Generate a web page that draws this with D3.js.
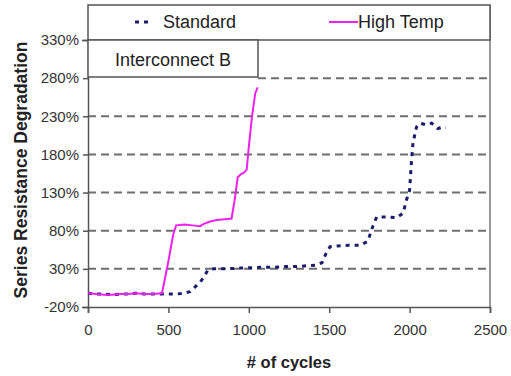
<!DOCTYPE html>
<html>
<head>
<meta charset="utf-8">
<script src="https://cdn.jsdelivr.net/npm/d3@7"></script>
<style>
  body { margin: 0; background: #fff; }
  text { font-family: "Liberation Sans", Arial, sans-serif; }
</style>
</head>
<body>
<div id="main"></div>
<script>
// data
const standardCycles = [0, 50, 100, 150, 200, 250, 300, 350, 400, 450, 500, 550, 590, 635, 700, 745, 780, 850, 950, 1070, 1150, 1215, 1300, 1420, 1455, 1480, 1505, 1550, 1620, 1690, 1740, 1770, 1795, 1850, 1920, 1960, 1980, 2000, 2012, 2021, 2043, 2065, 2100, 2137, 2175, 2210, 2225];
const standardValues = [-2, -3, -3, -4, -3, -3, -2, -3, -3, -3, -3, -3, -2, 0, 13, 28, 30, 30, 31, 32, 32, 33, 33, 35, 38, 50, 59, 60, 61, 61, 66, 85, 98, 98, 97, 103, 120, 133, 172, 195, 216, 221, 219, 221, 214, 216, 215];

const highCycles = [0, 50, 100, 150, 200, 250, 300, 350, 400, 460, 500, 530, 548, 600, 650, 697, 720, 760, 800, 850, 893, 912, 931, 950, 970, 987, 1000, 1020, 1040, 1055];
const highValues = [-2, -3, -4, -4, -3, -3, -2, -3, -3, -2, 40, 75, 87, 88, 87, 86, 89, 92, 94, 95, 96, 120, 150, 154, 156, 160, 190, 230, 260, 268];

const xTicks = [0, 500, 1000, 1500, 2000, 2500];
const yTicks = [-20, 30, 80, 130, 180, 230, 280, 330];
const gridTicks = [30, 80, 130, 180, 230, 280];

const width = 511, height = 376;
const margin = {top: 40, right: 21, bottom: 69, left: 88};

const svg = d3.select('#main').append('svg')
    .attr('width', width).attr('height', height);

const xScale = d3.scaleLinear().domain([0, 2500]).range([margin.left, width - margin.right]);
const yScale = d3.scaleLinear().domain([-20, 330]).range([height - margin.bottom, margin.top]);

// grid
svg.append('g').selectAll('line').data(gridTicks).enter().append('line')
    .attr('x1', function (d) { return d === 280 ? 258 : xScale(0); })
    .attr('x2', xScale(2500))
    .attr('y1', function (d) { return yScale(d); })
    .attr('y2', function (d) { return yScale(d); })
    .attr('stroke', '#6f6f6f')
    .attr('stroke-width', 2)
    .attr('stroke-dasharray', '8,5');

// right border
svg.append('line')
    .attr('x1', xScale(2500)).attr('x2', xScale(2500))
    .attr('y1', 5).attr('y2', yScale(-20))
    .attr('stroke', '#777').attr('stroke-width', 1.5);

// axes
const xAxis = d3.axisBottom(xScale).tickValues(xTicks).tickSize(6).tickPadding(11).tickFormat(d3.format('d'));
const yAxis = d3.axisLeft(yScale).tickValues(yTicks).tickSize(6).tickPadding(3).tickFormat(function (d) { return d + '%'; });

const gx = svg.append('g')
    .attr('transform', 'translate(0,' + yScale(-20) + ')')
    .call(xAxis);
const gy = svg.append('g')
    .attr('transform', 'translate(' + xScale(0) + ',0)')
    .call(yAxis);

[gx, gy].forEach(function (g) {
    g.select('.domain').attr('stroke', '#555').attr('stroke-width', 1.5);
    g.selectAll('.tick line').attr('stroke', '#555').attr('stroke-width', 1.5);
    g.selectAll('.tick text').attr('fill', '#333').style('font-size', '15px')
        .style('font-family', '"Liberation Sans", Arial, sans-serif');
});
gy.selectAll('.tick line').attr('x2', -5);

// lines
const line = d3.line()
    .x(function (d) { return xScale(d[0]); })
    .y(function (d) { return yScale(d[1]); });

svg.append('path')
    .datum(standardCycles.map(function (c, i) { return [c, standardValues[i]]; }))
    .attr('d', line)
    .attr('fill', 'none')
    .attr('stroke', '#1c1c6e')
    .attr('stroke-width', 3)
    .attr('stroke-dasharray', '4,5');

svg.append('path')
    .datum(highCycles.map(function (c, i) { return [c, highValues[i]]; }))
    .attr('d', line)
    .attr('fill', 'none')
    .attr('stroke', '#ee22ee')
    .attr('stroke-width', 2);

// legend box
svg.append('rect')
    .attr('x', xScale(0)).attr('y', 5)
    .attr('width', xScale(2500) - xScale(0)).attr('height', 35)
    .attr('fill', '#fff').attr('stroke', '#555').attr('stroke-width', 1.5);

svg.append('line')
    .attr('x1', 135).attr('x2', 152).attr('y1', 22).attr('y2', 22)
    .attr('stroke', '#1c1c6e').attr('stroke-width', 3).attr('stroke-dasharray', '4,5');
svg.append('text').attr('x', 163).attr('y', 28)
    .style('font-size', '18px').attr('fill', '#222').text('Standard');

svg.append('line')
    .attr('x1', 329).attr('x2', 358).attr('y1', 22).attr('y2', 22)
    .attr('stroke', '#ee22ee').attr('stroke-width', 2);
svg.append('text').attr('x', 358).attr('y', 28)
    .style('font-size', '18px').attr('fill', '#222').text('High Temp');

// annotation box
svg.append('rect')
    .attr('x', xScale(0)).attr('y', 40)
    .attr('width', 258 - xScale(0)).attr('height', 37)
    .attr('fill', '#fff').attr('stroke', '#555').attr('stroke-width', 1.5);
svg.append('text').attr('x', 115).attr('y', 66)
    .style('font-size', '18px').attr('fill', '#222').text('Interconnect B');

// axis titles
svg.append('text')
    .attr('x', (xScale(0) + xScale(2500)) / 2).attr('y', 368)
    .attr('text-anchor', 'middle')
    .style('font-size', '16.5px').style('font-weight', 'bold').attr('fill', '#222')
    .text('# of cycles');

svg.append('text')
    .attr('transform', 'translate(27,' + 170 + ') rotate(-90)')
    .attr('text-anchor', 'middle')
    .style('font-size', '17.5px').style('font-weight', 'bold').attr('fill', '#222')
    .text('Series Resistance Degradation');
</script>
</body>
</html>
